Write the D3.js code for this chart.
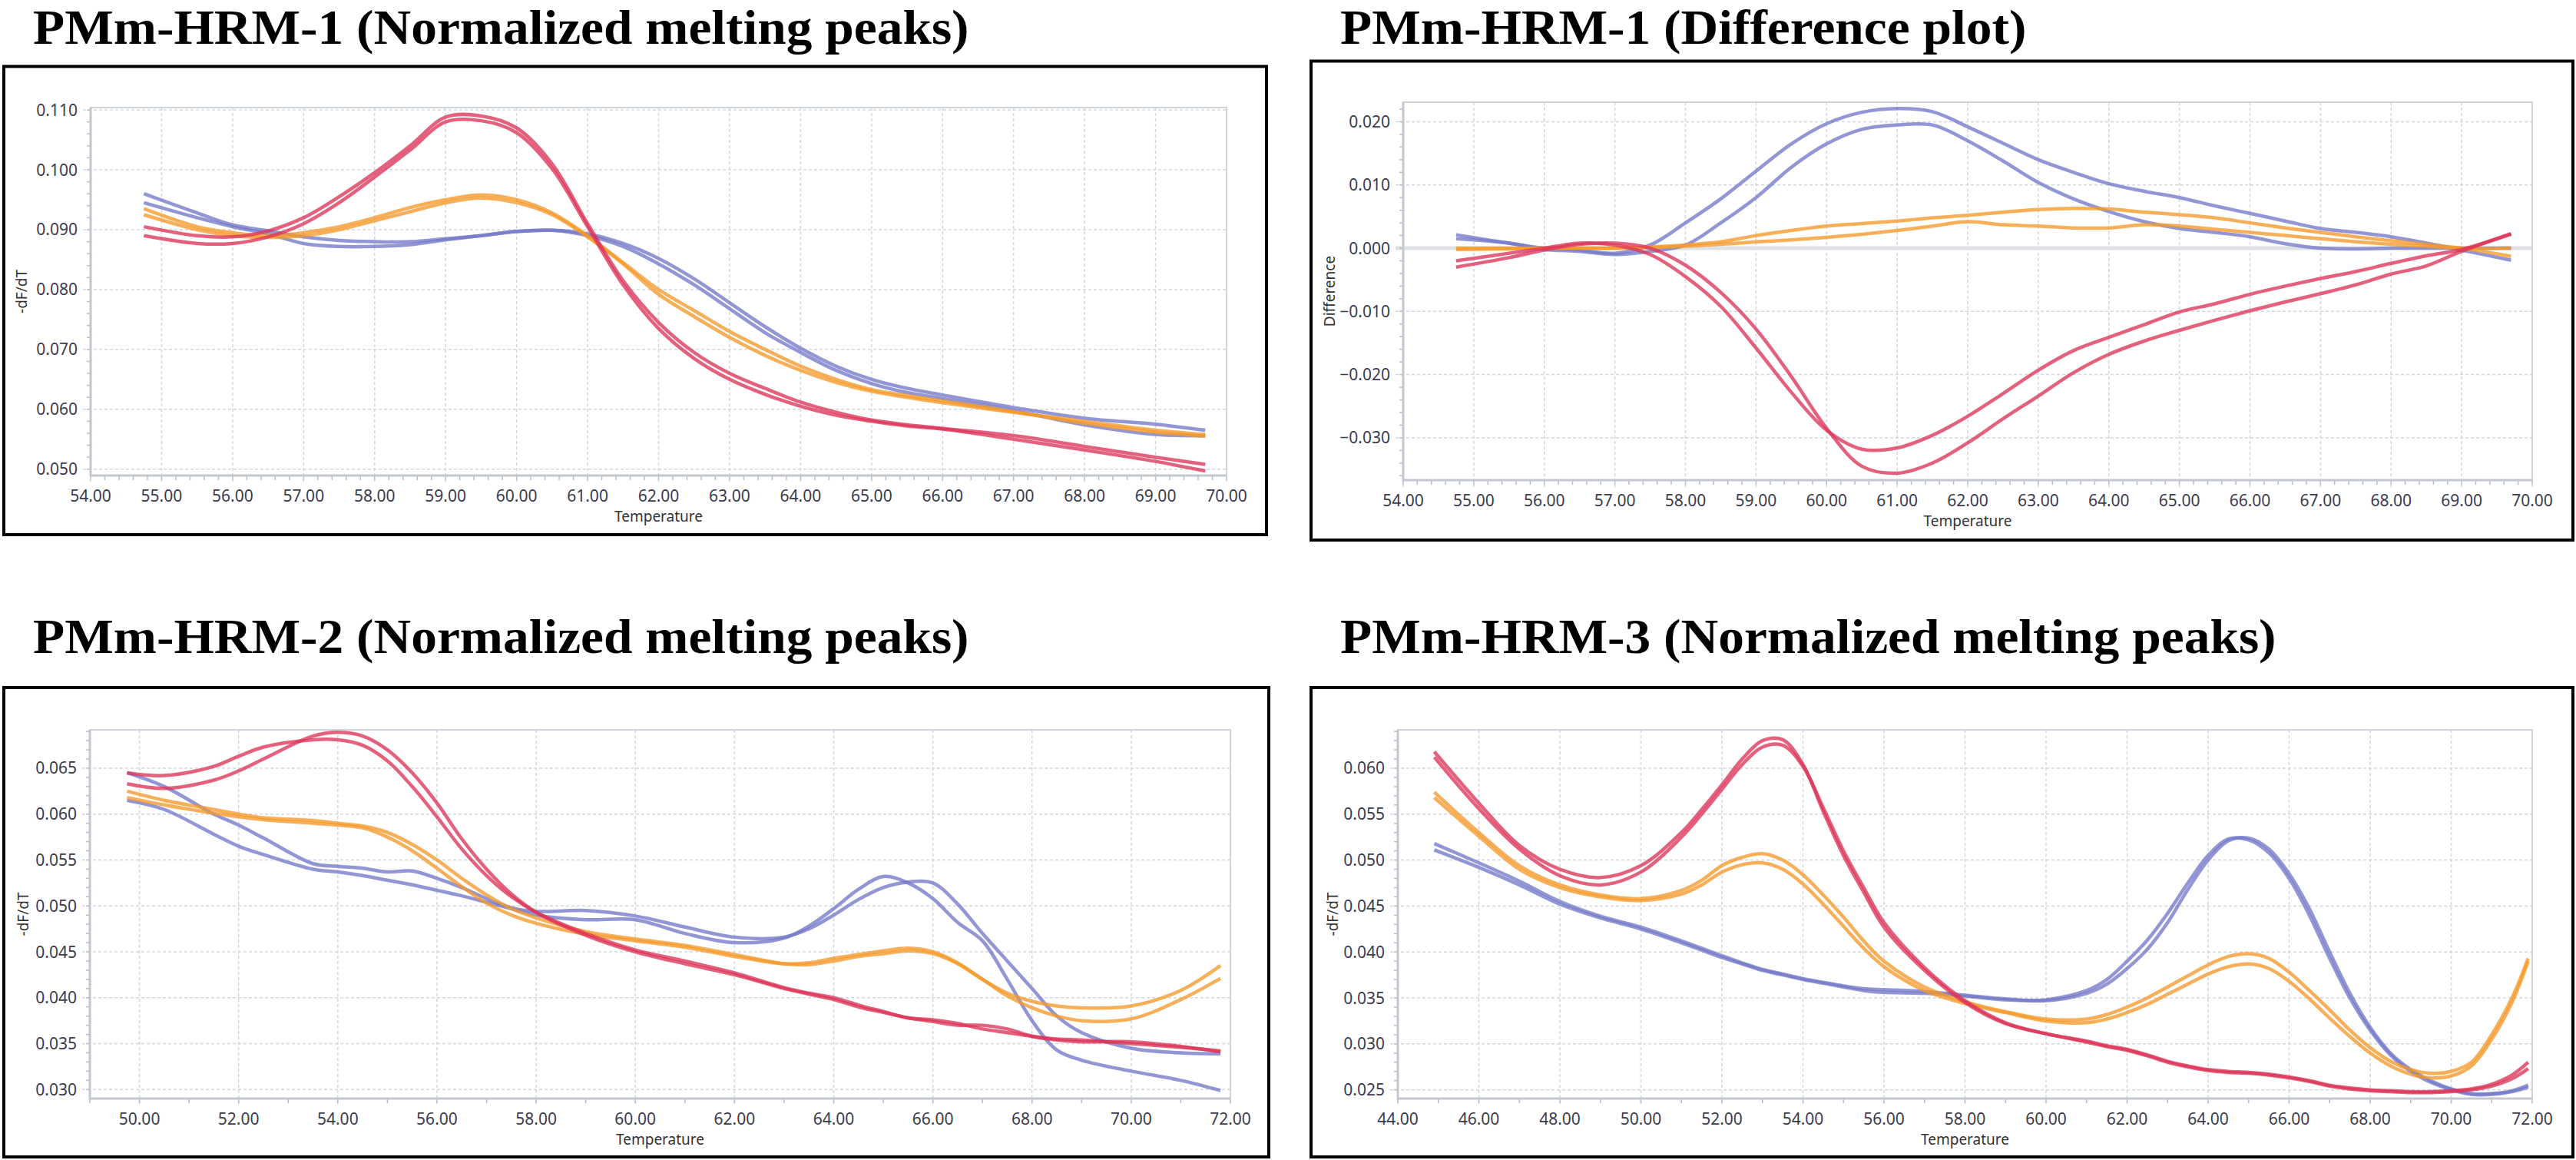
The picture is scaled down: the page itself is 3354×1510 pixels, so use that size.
<!DOCTYPE html>
<html>
<head>
<meta charset="utf-8">
<script src="https://cdn.jsdelivr.net/npm/d3@7"></script>
<style>
  body { margin: 0; background: #fff; }
</style>
</head>
<body>
<div id="chart"></div>
<script>

// ---- data ----

// PMm-HRM-1 normalized melting peaks
var hrm1Temp = [54.75, 55.5, 56, 56.5, 57, 57.5, 58, 58.5, 59, 59.5, 60, 60.5, 61, 61.5, 62, 62.5, 63, 63.5, 64, 64.5, 65, 65.5, 66, 67, 68, 69, 69.7]
var hrm1Red1 = [0.0905, 0.0890, 0.0888, 0.0898, 0.0920, 0.0955, 0.0995, 0.1040, 0.1088, 0.1090, 0.1070, 0.1010, 0.0910, 0.0815, 0.0745, 0.0695, 0.0660, 0.0635, 0.0612, 0.0595, 0.0582, 0.0574, 0.0568, 0.0556, 0.0538, 0.0520, 0.0508]
var hrm1Red2 = [0.0890, 0.0877, 0.0877, 0.0888, 0.0910, 0.0945, 0.0988, 0.1033, 0.1080, 0.1082, 0.1062, 0.1002, 0.0905, 0.0808, 0.0735, 0.0685, 0.0650, 0.0625, 0.0605, 0.0590, 0.0580, 0.0572, 0.0567, 0.0550, 0.0532, 0.0513, 0.0497]
var hrm1Orange1 = [0.0935, 0.0905, 0.0895, 0.0890, 0.0895, 0.0905, 0.0920, 0.0937, 0.0950, 0.0958, 0.0950, 0.0928, 0.0890, 0.0845, 0.0800, 0.0765, 0.0730, 0.0700, 0.0672, 0.0650, 0.0633, 0.0623, 0.0614, 0.0596, 0.0577, 0.0562, 0.0555]
var hrm1Orange2 = [0.0925, 0.0900, 0.0890, 0.0887, 0.0890, 0.0900, 0.0915, 0.0930, 0.0945, 0.0953, 0.0945, 0.0925, 0.0888, 0.0843, 0.0792, 0.0755, 0.0720, 0.0690, 0.0665, 0.0645, 0.0630, 0.0620, 0.0611, 0.0595, 0.0580, 0.0565, 0.0558]
var hrm1Blue1 = [0.0960, 0.0928, 0.0908, 0.0898, 0.0888, 0.0882, 0.0880, 0.0880, 0.0885, 0.0890, 0.0897, 0.0899, 0.0893, 0.0877, 0.0852, 0.0818, 0.0778, 0.0738, 0.0702, 0.0672, 0.0650, 0.0635, 0.0624, 0.0603, 0.0585, 0.0575, 0.0565]
var hrm1Blue2 = [0.0945, 0.0920, 0.0905, 0.0893, 0.0877, 0.0872, 0.0872, 0.0875, 0.0883, 0.0890, 0.0897, 0.0899, 0.0890, 0.0872, 0.0843, 0.0808, 0.0768, 0.0728, 0.0695, 0.0665, 0.0643, 0.0628, 0.0618, 0.0598, 0.0574, 0.0558, 0.0556]

// PMm-HRM-1 difference plot
var diffTemp = [54.75, 55.5, 56, 56.5, 57, 57.5, 58, 58.5, 59, 59.5, 60, 60.5, 61, 61.5, 62, 62.5, 63, 63.5, 64, 64.5, 65, 65.5, 66, 66.5, 67, 67.5, 68, 68.5, 69, 69.7]
var diffBlue1 = [0.0021, 0.0008, 0.0000, -0.0003, -0.0008, 0.0005, 0.0040, 0.0078, 0.0122, 0.0165, 0.0197, 0.0215, 0.0221, 0.0216, 0.0192, 0.0166, 0.0140, 0.0120, 0.0102, 0.0090, 0.0080, 0.0067, 0.0055, 0.0043, 0.0031, 0.0025, 0.0018, 0.0008, -0.0003, -0.0019]
var diffBlue2 = [0.0015, 0.0008, -0.0002, -0.0005, -0.0010, -0.0005, 0.0005, 0.0040, 0.0080, 0.0128, 0.0165, 0.0188, 0.0195, 0.0195, 0.0170, 0.0138, 0.0104, 0.0078, 0.0058, 0.0042, 0.0031, 0.0025, 0.0018, 0.0007, 0.0000, -0.0001, 0.0000, 0.0000, 0.0000, 0.0000]
var diffOrange1 = [0.0000, 0.0000, 0.0000, 0.0000, 0.0000, 0.0002, 0.0005, 0.0010, 0.0020, 0.0028, 0.0035, 0.0039, 0.0043, 0.0048, 0.0052, 0.0057, 0.0061, 0.0063, 0.0062, 0.0057, 0.0053, 0.0048, 0.0040, 0.0032, 0.0025, 0.0018, 0.0012, 0.0006, 0.0000, -0.0013]
var diffOrange2 = [-0.0002, -0.0001, 0.0000, 0.0000, 0.0000, 0.0001, 0.0003, 0.0006, 0.0010, 0.0013, 0.0017, 0.0022, 0.0028, 0.0035, 0.0042, 0.0037, 0.0035, 0.0032, 0.0032, 0.0037, 0.0035, 0.0030, 0.0025, 0.0020, 0.0015, 0.0010, 0.0006, 0.0003, 0.0000, 0.0000]
var diffRed1 = [-0.0020, -0.0008, 0.0000, 0.0008, 0.0005, -0.0010, -0.0045, -0.0092, -0.0158, -0.0228, -0.0288, -0.0318, -0.0316, -0.0296, -0.0266, -0.0230, -0.0193, -0.0162, -0.0141, -0.0121, -0.0101, -0.0088, -0.0073, -0.0060, -0.0048, -0.0037, -0.0024, -0.0012, -0.0002, 0.0023]
var diffRed2 = [-0.0030, -0.0015, -0.0003, 0.0006, 0.0008, 0.0000, -0.0027, -0.0070, -0.0128, -0.0203, -0.0285, -0.0345, -0.0356, -0.0340, -0.0308, -0.0270, -0.0234, -0.0197, -0.0168, -0.0147, -0.0130, -0.0114, -0.0099, -0.0085, -0.0072, -0.0058, -0.0041, -0.0028, -0.0005, 0.0022]

// PMm-HRM-2 normalized melting peaks
var hrm2Temp = [49.75, 50.5, 51.5, 52, 52.5, 53.5, 54, 54.5, 55, 55.5, 56, 56.5, 57, 57.5, 58, 59, 60, 61, 62, 63, 63.5, 64, 64.5, 65, 65.5, 66, 66.5, 67, 67.5, 68, 68.5, 69, 70, 71, 71.8]
var hrm2Red1 = [0.0645, 0.0642, 0.0652, 0.0663, 0.0673, 0.0681, 0.0681, 0.0675, 0.0658, 0.0630, 0.0597, 0.0562, 0.0533, 0.0510, 0.0493, 0.0470, 0.0452, 0.0440, 0.0427, 0.0411, 0.0405, 0.0400, 0.0392, 0.0385, 0.0378, 0.0376, 0.0372, 0.0366, 0.0362, 0.0358, 0.0355, 0.0354, 0.0350, 0.0346, 0.0342]
var hrm2Red2 = [0.0633, 0.0628, 0.0637, 0.0647, 0.0660, 0.0685, 0.0689, 0.0685, 0.0670, 0.0645, 0.0612, 0.0573, 0.0540, 0.0513, 0.0493, 0.0468, 0.0450, 0.0437, 0.0425, 0.0410, 0.0404, 0.0398, 0.0390, 0.0384, 0.0378, 0.0374, 0.0370, 0.0370, 0.0366, 0.0358, 0.0354, 0.0352, 0.0352, 0.0347, 0.0341]
var hrm2Orange1 = [0.0625, 0.0615, 0.0605, 0.0600, 0.0596, 0.0593, 0.0590, 0.0587, 0.0580, 0.0567, 0.0550, 0.0530, 0.0512, 0.0497, 0.0487, 0.0472, 0.0464, 0.0457, 0.0447, 0.0437, 0.0436, 0.0440, 0.0445, 0.0448, 0.0451, 0.0448, 0.0437, 0.0420, 0.0405, 0.0396, 0.0391, 0.0389, 0.0391, 0.0408, 0.0435]
var hrm2Orange2 = [0.0618, 0.0610, 0.0601, 0.0597, 0.0594, 0.0590, 0.0588, 0.0585, 0.0575, 0.0560, 0.0541, 0.0521, 0.0503, 0.0490, 0.0481, 0.0469, 0.0462, 0.0455, 0.0445, 0.0437, 0.0438, 0.0443, 0.0447, 0.0451, 0.0454, 0.0450, 0.0438, 0.0420, 0.0402, 0.0389, 0.0380, 0.0375, 0.0377, 0.0398, 0.0421]
var hrm2Blue1 = [0.0645, 0.0630, 0.0600, 0.0588, 0.0574, 0.0546, 0.0543, 0.0541, 0.0537, 0.0538, 0.0530, 0.0520, 0.0508, 0.0498, 0.0494, 0.0495, 0.0489, 0.0477, 0.0466, 0.0466, 0.0475, 0.0490, 0.0507, 0.0520, 0.0526, 0.0525, 0.0502, 0.0470, 0.0440, 0.0410, 0.0380, 0.0362, 0.0345, 0.0340, 0.0339]
var hrm2Blue2 = [0.0615, 0.0605, 0.0578, 0.0565, 0.0556, 0.0540, 0.0537, 0.0533, 0.0528, 0.0523, 0.0517, 0.0511, 0.0504, 0.0497, 0.0490, 0.0485, 0.0485, 0.0470, 0.0460, 0.0465, 0.0478, 0.0497, 0.0518, 0.0532, 0.0525, 0.0508, 0.0482, 0.0462, 0.0420, 0.0375, 0.0343, 0.0332, 0.0320, 0.0310, 0.0299]

// PMm-HRM-3 normalized melting peaks
var hrm3Temp = [44.9, 46, 47, 48, 49, 50, 51, 51.5, 52, 52.5, 53, 53.5, 54, 54.5, 55, 55.5, 56, 57, 58, 59, 60, 61, 61.5, 62, 62.5, 63, 63.5, 64, 64.5, 65, 65.5, 66, 66.5, 67, 67.5, 68, 68.5, 69, 69.5, 70, 70.5, 71, 71.5, 71.9]
var hrm3Red1 = [0.0618, 0.0562, 0.0516, 0.0490, 0.0481, 0.0494, 0.0530, 0.0555, 0.0582, 0.0610, 0.0630, 0.0631, 0.0604, 0.0553, 0.0505, 0.0465, 0.0427, 0.0380, 0.0345, 0.0322, 0.0311, 0.0303, 0.0298, 0.0294, 0.0288, 0.0281, 0.0276, 0.0272, 0.0270, 0.0269, 0.0267, 0.0264, 0.0260, 0.0255, 0.0252, 0.0250, 0.0249, 0.0248, 0.0248, 0.0249, 0.0251, 0.0256, 0.0266, 0.0280]
var hrm3Red2 = [0.0612, 0.0556, 0.0512, 0.0483, 0.0473, 0.0487, 0.0525, 0.0550, 0.0577, 0.0604, 0.0623, 0.0625, 0.0602, 0.0557, 0.0510, 0.0470, 0.0432, 0.0383, 0.0347, 0.0323, 0.0311, 0.0302, 0.0297, 0.0293, 0.0287, 0.0280, 0.0275, 0.0271, 0.0269, 0.0268, 0.0266, 0.0263, 0.0259, 0.0254, 0.0251, 0.0249, 0.0248, 0.0247, 0.0247, 0.0248, 0.0250, 0.0254, 0.0262, 0.0273]
var hrm3Orange1 = [0.0574, 0.0530, 0.0494, 0.0473, 0.0462, 0.0458, 0.0467, 0.0478, 0.0494, 0.0503, 0.0507, 0.0500, 0.0484, 0.0462, 0.0438, 0.0412, 0.0390, 0.0362, 0.0346, 0.0335, 0.0327, 0.0327, 0.0332, 0.0340, 0.0350, 0.0362, 0.0374, 0.0386, 0.0395, 0.0398, 0.0393, 0.0378, 0.0358, 0.0337, 0.0315, 0.0296, 0.0281, 0.0272, 0.0268, 0.0270, 0.0280, 0.0310, 0.0350, 0.0393]
var hrm3Orange2 = [0.0568, 0.0526, 0.0490, 0.0470, 0.0460, 0.0456, 0.0463, 0.0473, 0.0487, 0.0495, 0.0497, 0.0490, 0.0474, 0.0452, 0.0428, 0.0404, 0.0384, 0.0358, 0.0344, 0.0334, 0.0325, 0.0323, 0.0327, 0.0334, 0.0343, 0.0354, 0.0365, 0.0376, 0.0384, 0.0387, 0.0382, 0.0368, 0.0349, 0.0328, 0.0308, 0.0290, 0.0276, 0.0267, 0.0263, 0.0265, 0.0276, 0.0305, 0.0345, 0.0390]
var hrm3Blue1 = [0.0518, 0.0497, 0.0477, 0.0455, 0.0439, 0.0427, 0.0412, 0.0404, 0.0396, 0.0388, 0.0381, 0.0376, 0.0371, 0.0367, 0.0363, 0.0360, 0.0359, 0.0357, 0.0353, 0.0349, 0.0347, 0.0355, 0.0365, 0.0382, 0.0403, 0.0432, 0.0468, 0.0500, 0.0521, 0.0524, 0.0512, 0.0485, 0.0447, 0.0400, 0.0355, 0.0318, 0.0290, 0.0272, 0.0260, 0.0251, 0.0246, 0.0246, 0.0249, 0.0255]
var hrm3Blue2 = [0.0511, 0.0492, 0.0473, 0.0452, 0.0437, 0.0425, 0.0410, 0.0402, 0.0394, 0.0387, 0.0380, 0.0375, 0.0370, 0.0366, 0.0362, 0.0358, 0.0356, 0.0355, 0.0352, 0.0348, 0.0348, 0.0358, 0.0370, 0.0390, 0.0413, 0.0442, 0.0475, 0.0505, 0.0523, 0.0522, 0.0508, 0.0480, 0.0440, 0.0393, 0.0350, 0.0315, 0.0288, 0.0270, 0.0258, 0.0250, 0.0245, 0.0245, 0.0248, 0.0253]

// tick values
var hrm1XTicks = [54, 55, 56, 57, 58, 59, 60, 61, 62, 63, 64, 65, 66, 67, 68, 69, 70]
var hrm1YTicks = [0.050, 0.060, 0.070, 0.080, 0.090, 0.100, 0.110]
var diffYTicks = [-0.030, -0.020, -0.010, 0.000, 0.010, 0.020]
var hrm2XTicks = [50, 52, 54, 56, 58, 60, 62, 64, 66, 68, 70, 72]
var hrm2YTicks = [0.030, 0.035, 0.040, 0.045, 0.050, 0.055, 0.060, 0.065]
var hrm3XTicks = [44, 46, 48, 50, 52, 54, 56, 58, 60, 62, 64, 66, 68, 70, 72]
var hrm3YTicks = [0.025, 0.030, 0.035, 0.040, 0.045, 0.050, 0.055, 0.060]

var titles = ["PMm-HRM-1 (Normalized melting peaks)", "PMm-HRM-1 (Difference plot)",
              "PMm-HRM-2 (Normalized melting peaks)", "PMm-HRM-3 (Normalized melting peaks)"]

var BLUE = "#7378c8", ORANGE = "#f59a2a", RED = "#dc3559"

// layout: box = outer black frame, plot = [left, top, right, bottom]
var panels = [
  { title: titles[0], tx: 43, ty: 57, box: [5, 86.5, 1649, 696], plot: [118, 140, 1597, 619],
    xDomain: [54, 70], yDomain: [0.04894, 0.1104], xTicks: hrm1XTicks, xMinor: 0.2,
    yTicks: hrm1YTicks, yMinor: 0.002, yLabel: "-dF/dT", yLabelX: 35, temps: hrm1Temp,
    series: [[hrm1Blue1, BLUE], [hrm1Blue2, BLUE], [hrm1Orange1, ORANGE], [hrm1Orange2, ORANGE], [hrm1Red1, RED], [hrm1Red2, RED]] },
  { title: titles[1], tx: 1745, ty: 57, box: [1707, 79.5, 3350, 703], plot: [1827, 133, 3297, 625],
    xDomain: [54, 70], yDomain: [-0.0367, 0.0231], xTicks: hrm1XTicks, xMinor: 0.2,
    yTicks: diffYTicks, yMinor: 0.002, yLabel: "Difference", yLabelX: 1738, temps: diffTemp, zero: true,
    series: [[diffBlue1, BLUE], [diffBlue2, BLUE], [diffOrange1, ORANGE], [diffOrange2, ORANGE], [diffRed1, RED], [diffRed2, RED]] },
  { title: titles[2], tx: 43, ty: 850, box: [5, 895, 1652, 1506], plot: [117, 950, 1602, 1430],
    xDomain: [49, 72], yDomain: [0.02902, 0.06918], xTicks: hrm2XTicks, xMinor: 1,
    yTicks: hrm2YTicks, yMinor: 0.001, yLabel: "-dF/dT", yLabelX: 37, temps: hrm2Temp,
    series: [[hrm2Blue1, BLUE], [hrm2Blue2, BLUE], [hrm2Orange1, ORANGE], [hrm2Orange2, ORANGE], [hrm2Red1, RED], [hrm2Red2, RED]] },
  { title: titles[3], tx: 1745, ty: 850, box: [1707, 895, 3350, 1506], plot: [1820, 950, 3297, 1430],
    xDomain: [44, 72], yDomain: [0.02405, 0.06418], xTicks: hrm3XTicks, xMinor: 1,
    yTicks: hrm3YTicks, yMinor: 0.001, yLabel: "-dF/dT", yLabelX: 1742, temps: hrm3Temp,
    series: [[hrm3Blue1, BLUE], [hrm3Blue2, BLUE], [hrm3Orange1, ORANGE], [hrm3Orange2, ORANGE], [hrm3Red1, RED], [hrm3Red2, RED]] }
]

var svg = d3.select("#chart")
  .append("svg")
  .attr("width", 3354)
  .attr("height", 1510)
  .style("background", "#fff")

var tickFont = "'Noto Sans', 'Open Sans', sans-serif"
var fmtX = d3.format(".2f")
var fmtY = d3.format(".3f")

// every multiple of step inside [lo, hi]
function steps(lo, hi, step) {
  var out = []
  var k0 = Math.ceil(lo / step - 1e-6), k1 = Math.floor(hi / step + 1e-6)
  for (var k = k0; k <= k1; k++) out.push(k * step)
  return out
}

function drawPanel(p, idx) {
  var L = p.plot[0], T = p.plot[1], R = p.plot[2], B = p.plot[3]
  var x = d3.scaleLinear().domain(p.xDomain).range([L, R])
  var y = d3.scaleLinear().domain(p.yDomain).range([B, T])
  var g = svg.append("g").attr("class", "panel")

  g.append("text")
    .attr("transform", "translate(" + p.tx + "," + p.ty + ") scale(1.07,1)")
    .style("font-family", "'Liberation Serif', 'Times New Roman', serif")
    .style("font-weight", "bold")
    .style("font-size", "63px")
    .attr("fill", "#000")
    .text(p.title)

  g.append("rect")
    .attr("x", p.box[0]).attr("y", p.box[1])
    .attr("width", p.box[2] - p.box[0]).attr("height", p.box[3] - p.box[1])
    .attr("fill", "#fff").attr("stroke", "#000").attr("stroke-width", 4)

  // grid
  g.selectAll(".vgrid").data(p.xTicks).enter().append("line")
    .attr("x1", function (d) { return x(d) }).attr("x2", function (d) { return x(d) })
    .attr("y1", T).attr("y2", B + 10)
    .attr("stroke", "#d3d7e0").attr("stroke-width", 1.5).attr("stroke-dasharray", "4,3")
  g.selectAll(".hgrid").data(p.yTicks).enter().append("line")
    .attr("x1", L - 10).attr("x2", R)
    .attr("y1", function (d) { return y(d) }).attr("y2", function (d) { return y(d) })
    .attr("stroke", function (d) { return (p.zero && d == 0) ? "#dfe1e5" : "#d3d7e0" })
    .attr("stroke-width", function (d) { return (p.zero && d == 0) ? 5 : 1.5 })
    .attr("stroke-dasharray", function (d) { return (p.zero && d == 0) ? null : "4,3" })

  // minor ticks
  g.selectAll(".xminor").data(steps(p.xDomain[0], p.xDomain[1], p.xMinor)).enter().append("line")
    .attr("x1", function (d) { return x(d) }).attr("x2", function (d) { return x(d) })
    .attr("y1", B).attr("y2", B + 6)
    .attr("stroke", "#b9bdc8").attr("stroke-width", 1.5)
  g.selectAll(".yminor").data(steps(p.yDomain[0], p.yDomain[1], p.yMinor)).enter().append("line")
    .attr("x1", L - 5).attr("x2", L)
    .attr("y1", function (d) { return y(d) }).attr("y2", function (d) { return y(d) })
    .attr("stroke", "#b9bdc8").attr("stroke-width", 1.5)

  // plot frame
  g.append("rect")
    .attr("x", L).attr("y", T).attr("width", R - L).attr("height", B - T)
    .attr("fill", "none").attr("stroke", "#cfd3db").attr("stroke-width", 2)
  g.append("path")
    .attr("d", "M" + L + "," + T + "V" + B + "H" + R)
    .attr("fill", "none").attr("stroke", "#c3c7d0").attr("stroke-width", 3)

  // tick labels
  g.selectAll(".xlab").data(p.xTicks).enter().append("text")
    .attr("x", function (d) { return x(d) }).attr("y", B + 34)
    .attr("text-anchor", "middle")
    .style("font-family", tickFont).style("font-size", "21px").attr("fill", "#3b3b4e")
    .text(function (d) { return fmtX(d) })
  g.selectAll(".ylab").data(p.yTicks).enter().append("text")
    .attr("x", L - 17).attr("y", function (d) { return y(d) + 7.5 })
    .attr("text-anchor", "end")
    .style("font-family", tickFont).style("font-size", "21px").attr("fill", "#3b3b4e")
    .text(function (d) { return fmtY(d) })

  // axis titles
  g.append("text")
    .attr("x", (L + R) / 2).attr("y", B + 60)
    .attr("text-anchor", "middle")
    .style("font-family", tickFont).style("font-size", "19px").attr("fill", "#333")
    .text("Temperature")
  g.append("text")
    .attr("transform", "translate(" + p.yLabelX + "," + ((T + B) / 2) + ") rotate(-90)")
    .attr("text-anchor", "middle")
    .style("font-family", tickFont).style("font-size", "19px").attr("fill", "#333")
    .text(p.yLabel)

  // curves
  var clipId = "clip" + idx
  svg.append("clipPath").attr("id", clipId).append("rect")
    .attr("x", L).attr("y", T - 2).attr("width", R - L).attr("height", B - T + 2)

  var line = d3.line()
    .x(function (d, i) { return x(p.temps[i]) })
    .y(function (d) { return y(d) })
    .curve(d3.curveCatmullRom.alpha(0.5))

  g.append("g").attr("clip-path", "url(#" + clipId + ")")
    .selectAll(".curve").data(p.series).enter().append("path")
    .attr("class", "curve")
    .attr("d", function (s) { return line(s[0]) })
    .attr("fill", "none")
    .attr("stroke", function (s) { return s[1] })
    .attr("stroke-width", 4.5)
    .attr("stroke-opacity", 0.78)
    .attr("stroke-linejoin", "round")
}

panels.forEach(drawPanel)

</script>
</body>
</html>
